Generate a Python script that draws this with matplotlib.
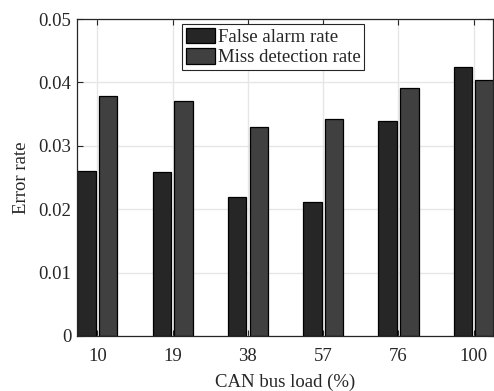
import matplotlib
matplotlib.use('Agg')
import matplotlib.pyplot as plt
import numpy as np

plt.rcParams['font.family'] = ['Liberation Serif', 'DejaVu Serif']

loads = ['10', '19', '38', '57', '76', '100']
false_alarm = [0.0261, 0.0259, 0.0219, 0.0211, 0.0339, 0.0424]
miss_detection = [0.0378, 0.0370, 0.0330, 0.0343, 0.0391, 0.0404]

DARK = '#262626'
LIGHT = '#404040'
FS = 13.5

fig = plt.figure(figsize=(4.94, 3.91), dpi=100)
ax = fig.add_axes([0.156, 0.1407, 0.842, 0.8107])

x = np.arange(1, len(loads) + 1)
ax.bar(x - 0.144, false_alarm, width=0.245, color=DARK, edgecolor='black',
       linewidth=0.9, label='False alarm rate', zorder=2)
ax.bar(x + 0.144, miss_detection, width=0.245, color=LIGHT, edgecolor='black',
       linewidth=0.9, label='Miss detection rate', zorder=2)

ax.set_xlim(0.73, 6.256)
ax.set_ylim(0, 0.05)
ax.set_xticks(x)
ax.set_xticklabels(loads)
ax.set_yticks([0, 0.01, 0.02, 0.03, 0.04, 0.05])
ax.set_yticklabels(['0', '0.01', '0.02', '0.03', '0.04', '0.05'])

ax.set_axisbelow(True)
ax.grid(color='#e6e6e6', linewidth=1.0)
ax.tick_params(direction='in', top=True, right=True, length=4, width=0.8,
               color='#262626', labelsize=FS, labelcolor='#262626')
ax.tick_params(axis='x', pad=9)
ax.tick_params(axis='y', pad=4)
for sp in ax.spines.values():
  sp.set_color('#262626')
  sp.set_linewidth(0.9)

ax.set_xlabel('CAN bus load (%)', fontsize=FS, color='#262626', labelpad=6)
ax.set_ylabel('Error rate', fontsize=FS, color='#262626', labelpad=6)

leg = ax.legend(loc='upper left', bbox_to_anchor=(0.252, 0.984), borderaxespad=0,
                fontsize=FS, fancybox=False, edgecolor='#262626', framealpha=1,
                handlelength=1.55, handleheight=0.9, handletextpad=0.15,
                labelspacing=0.1, borderpad=0.2)
leg.get_frame().set_linewidth(0.8)
for t in leg.get_texts():
  t.set_color('#262626')

fig.savefig('out.png', dpi=100)
